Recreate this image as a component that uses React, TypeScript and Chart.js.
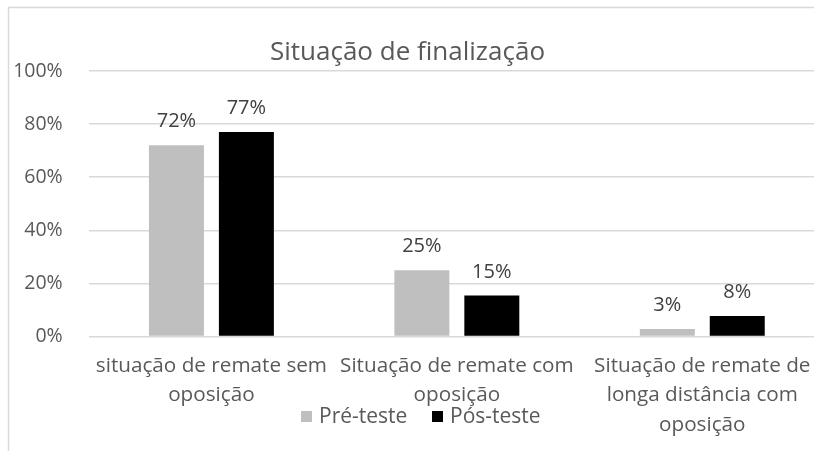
import React, { useEffect, useRef } from "react";
import { Chart, registerables } from "chart.js";

Chart.register(...registerables);

const chartTitle = "Situação de finalização";
const categories: string[][] = [
  ["situação de remate sem", "oposição"],
  ["Situação de remate com", "oposição"],
  ["Situação de remate de", "longa distância com", "oposição"],
];
const seriesNames = ["Pré-teste", "Pós-teste"];
const preTeste = [0.72, 0.25, 0.028];
const posTeste = [0.77, 0.154, 0.077];
const yTicks = [0, 0.2, 0.4, 0.6, 0.8, 1.0];

const FONT = "'Open Sans', sans-serif";
const TEXT = "#595959";
const COLORS = ["#bfbfbf", "#000000"];

const decorPlugin = {
  id: "decor",
  beforeDraw(chart: any) {
    const ctx = chart.ctx;
    ctx.save();
    ctx.fillStyle = "#ffffff";
    ctx.fillRect(0, 0, chart.width, chart.height);
    ctx.strokeStyle = "#d9d9d9";
    ctx.lineWidth = 1.5;
    ctx.strokeRect(8.5, 7.5, 3000, 3000);
    ctx.restore();
  },
  afterDraw(chart: any) {
    const ctx = chart.ctx;
    ctx.save();
    // title
    ctx.fillStyle = TEXT;
    ctx.font = `26px ${FONT}`;
    ctx.textAlign = "center";
    ctx.textBaseline = "alphabetic";
    ctx.fillText(chartTitle, 407.5, 60);
    // data labels
    ctx.font = `20px ${FONT}`;
    ctx.fillStyle = "#404040";
    chart.data.datasets.forEach((ds: any, di: number) => {
      const meta = chart.getDatasetMeta(di);
      meta.data.forEach((bar: any, i: number) => {
        const v = ds.data[i];
        ctx.fillText(Math.round(v * 100) + "%", bar.x, bar.y - 18);
      });
    });
    // legend
    ctx.textAlign = "left";
    ctx.font = `21px ${FONT}`;
    const lx = [301, 432];
    seriesNames.forEach((n, i) => {
      ctx.fillStyle = COLORS[i];
      ctx.fillRect(lx[i], 411, 11, 11);
      ctx.fillStyle = TEXT;
      ctx.fillText(n, lx[i] + 18, 423);
    });
    ctx.restore();
  },
};

export default function App() {
  const ref = useRef<HTMLCanvasElement>(null);
  useEffect(() => {
    const chart = new Chart(ref.current!, {
      type: "bar",
      data: {
        labels: categories,
        datasets: [
          { label: seriesNames[0], data: preTeste, backgroundColor: COLORS[0] },
          { label: seriesNames[1], data: posTeste, backgroundColor: COLORS[1] },
        ],
      },
      plugins: [decorPlugin],
      options: {
        responsive: false,
        animation: false,
        layout: { padding: { left: 0, right: 5, top: 71, bottom: 0 } },
        datasets: { bar: { categoryPercentage: 0.57, barPercentage: 0.786 } },
        plugins: {
          legend: { display: false },
          title: { display: false },
          tooltip: { enabled: false },
        },
        scales: {
          x: {
            grid: { display: false, drawTicks: false },
            border: { display: false },
            ticks: {
              color: TEXT,
              font: { family: FONT, size: 20.7, lineHeight: 1.42 },
              padding: 15,
              maxRotation: 0,
              autoSkip: false,
            },
            afterFit(scale: any) {
              scale.height = 451 - 336.5;
            },
          },
          y: {
            min: 0,
            max: 1,
            grid: { color: "#d9d9d9", lineWidth: 1.5, drawTicks: false },
            border: { display: false },
            afterBuildTicks(scale: any) {
              scale.ticks = yTicks.map((v) => ({ value: v }));
            },
            ticks: {
              color: TEXT,
              font: { family: FONT, size: 19.5 },
              padding: 26,
              callback: (v: any) => Math.round(Number(v) * 100) + "%",
            },
            afterFit(scale: any) {
              scale.width = 88.7;
            },
          },
        },
      },
    });
    return () => chart.destroy();
  }, []);
  return (
    <div style={{ position: "fixed", left: 0, top: 0, width: 814, height: 451, overflow: "hidden", background: "#fff" }}>
      <canvas ref={ref} width={830} height={451} style={{ position: "absolute", left: 0, top: 0, width: 830, height: 451 }} />
    </div>
  );
}
